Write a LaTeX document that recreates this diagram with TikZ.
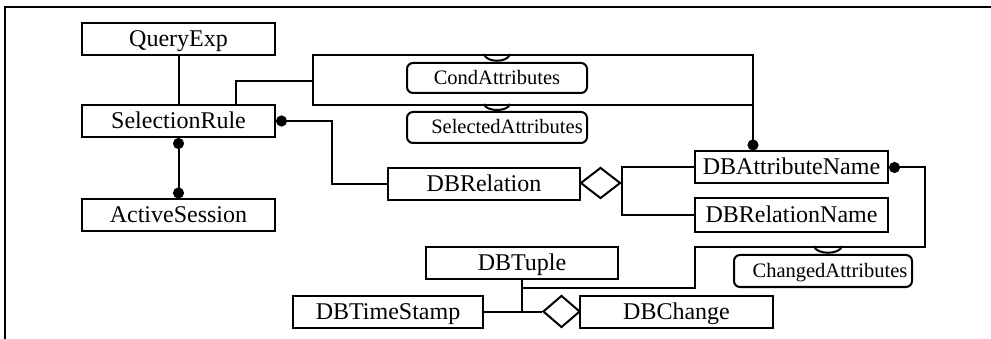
\documentclass[tikz,border=0pt]{standalone}
\usepackage{fontspec}
\setmainfont{Liberation Serif}
\usetikzlibrary{shapes.geometric,arrows.meta,calc}

\begin{document}
\begin{tikzpicture}[x=1pt,y=-1pt,line width=2pt,
  cls/.style={draw,rectangle,inner sep=0pt,minimum width=193pt,minimum height=32pt,
    text height=17pt,text depth=2pt,font=\fontsize{24}{26}\selectfont},
  role/.style={draw,rectangle,rounded corners=6pt,inner sep=0pt,minimum width=180pt,
    minimum height=30pt,text height=14.5pt,text depth=2pt,font=\fontsize{20.5}{22}\selectfont},
  agg/.style={draw,diamond,inner sep=0pt,fill=white},
  ball/.tip={Circle[length=11pt]}]

\useasboundingbox (0,0) rectangle (991,339);

% outer frame (top and left edges only)
\draw[line width=2.2pt] (5,339) -- (5,7) -- (991,7);

% classes
\node[cls] (qe)   at (178.5,39)    {QueryExp};
\node[cls] (sr)   at (178.5,121)   {SelectionRule};
\node[cls] (as)   at (178.5,215.5) {ActiveSession};
\node[cls,minimum width=192pt] (dbr)  at (484,184)     {DBRelation};
\node[cls] (dba)  at (791.5,167.5) {DBAttributeName};
\node[cls,minimum height=34pt] (dbrn) at (791.5,215)   {DBRelationName};
\node[cls,minimum width=192pt] (dbt)  at (522,263)     {DBTuple};
\node[cls,minimum width=190pt] (dbts) at (388,311.5)   {DBTimeStamp};
\node[cls] (dbc)  at (676.5,311.5) {DBChange};

% role boxes
\node[role] (ca)  at (497,78)    {CondAttributes};
\node[role,minimum height=31pt] (sa)  at (497,127.5) {\hspace*{20pt}SelectedAttributes};
\node[role,minimum width=178pt,minimum height=32pt] (cha) at (823,271) {\hspace*{14pt}ChangedAttributes};

% aggregation diamonds
\node[agg,minimum width=40pt,minimum height=31pt] (d1) at (600.5,183) {};
\node[agg,minimum width=37pt,minimum height=32pt] (d2) at (561.5,311.5) {};

% helper points
\coordinate (bTL) at (313,55);
\coordinate (bBR) at (753,105);
\coordinate (bL)  at (313,81);
\coordinate (cr)  at (925,247);
\coordinate (cl)  at (695,247);
\coordinate (cj)  at ($(dbt.south)+(0,8)$);

% connectors
\draw (qe.south) -- (sr.north);
\draw[{ball}-{ball}] (sr.south) -- (as.north);
\draw[{ball}-] (sr.east) -- ++(56,0) |- (dbr.west);

\draw (bTL) rectangle (bBR);
\draw ([xshift=57.5pt]sr.north) |- (bL);
\draw[-{ball}] (bBR) -- (bBR |- dba.north);

\draw (dba.west) -| (d1.east);
\draw (dbrn.west) -| (d1.east);

\draw[{ball}-] (dba.east) -| (cr) -- (cl) |- (cj);
\draw (dbt.south) -- (dbt.south |- d2.west);
\draw (dbts.east) -- (d2.west);

% role attachments
\draw ($(ca.north)+(-13,-8)$) .. controls ($(ca.north)+(-11,1)$) and ($(ca.north)+(11,1)$) .. ($(ca.north)+(13,-8)$);
\draw ($(sa.north)+(-13,-7)$) .. controls ($(sa.north)+(-11,1)$) and ($(sa.north)+(11,1)$) .. ($(sa.north)+(13,-7)$);
\draw ($(cha.north)+(-9,-8)$) .. controls ($(cha.north)+(-7,1)$) and ($(cha.north)+(17,1)$) .. ($(cha.north)+(19,-8)$);

\end{tikzpicture}
\end{document}
